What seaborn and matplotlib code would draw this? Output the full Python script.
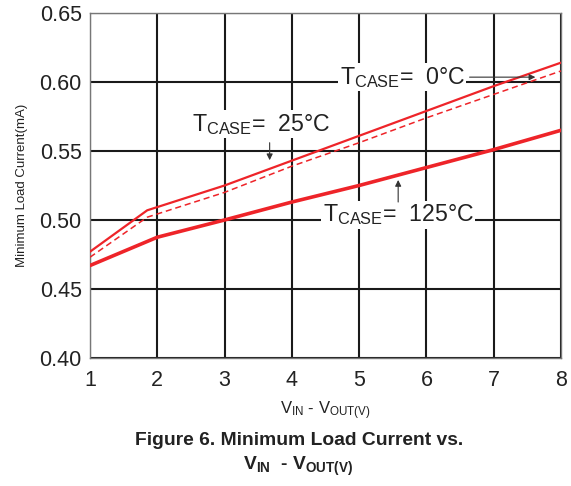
import pandas as pd
import seaborn as sns
import matplotlib.pyplot as plt

# curves
x_25 = [1, 1.85, 3, 4, 5, 6, 7, 8]
y_25 = [0.477, 0.507, 0.525, 0.543, 0.561, 0.579, 0.597, 0.614]
x_0 = [1, 1.85, 3, 4, 5, 6, 7, 8]
y_0 = [0.473, 0.502, 0.520, 0.539, 0.556, 0.574, 0.591, 0.608]
x_125 = [1, 2, 3, 4, 5, 6, 7, 8]
y_125 = [0.467, 0.4875, 0.500, 0.513, 0.525, 0.538, 0.551, 0.565]

x_ticks = [1, 2, 3, 4, 5, 6, 7, 8]
y_ticks = [0.40, 0.45, 0.50, 0.55, 0.60, 0.65]

sns.set_style("white")
plt.rcParams["font.family"] = ["Liberation Sans", "DejaVu Sans"]
plt.rcParams["mathtext.fontset"] = "custom"
plt.rcParams["mathtext.rm"] = "Liberation Sans"
plt.rcParams["mathtext.bf"] = "Liberation Sans:bold"

fig = plt.figure(figsize=(5.71, 4.86), dpi=100)
ax = fig.add_axes([0.1576, 0.2634, 0.8249, 0.7099])

red = "#ee2429"
sns.lineplot(x=x_25, y=y_25, ax=ax, color=red, linewidth=1.6, zorder=3)
sns.lineplot(x=x_0, y=y_0, ax=ax, color=red, linewidth=1.1, linestyle=(0, (4, 2.5)), zorder=3)
sns.lineplot(x=x_125, y=y_125, ax=ax, color=red, linewidth=2.6, zorder=3)

ax.set_xlim(1, 8)
ax.set_ylim(0.40, 0.65)
ax.set_xticks(x_ticks)
ax.set_yticks(y_ticks)
ax.set_xticklabels([str(v) for v in x_ticks])
ax.set_yticklabels([f"{v:.2f}" for v in y_ticks])
ax.tick_params(length=0, labelsize=15.5, colors="#222222")
ax.tick_params(axis="x", pad=9)
ax.tick_params(axis="y", pad=6)
ax.grid(True, color="#1a1a1a", linewidth=1.5)
ax.set_axisbelow(True)
for s in ax.spines.values():
    s.set_color("#777777")
    s.set_linewidth(1.0)

ax.set_xlabel(r"$\mathregular{V_{IN}}$ - $\mathregular{V_{OUT(V)}}$", fontsize=12, color="#222222", labelpad=6)
ax.set_ylabel("Minimum Load Current(mA)", fontsize=9.5, color="#222222", labelpad=8)

box = dict(facecolor="white", edgecolor="none", pad=1)
lab = r"$\mathregular{T_{CASE}}$= "
arrow = dict(arrowstyle="-|>", color="#333333", lw=0.8, mutation_scale=9)
ax.text(4.71, 0.6035, lab + " 0°C", fontsize=16.7, color="#222222", ha="left", va="center", bbox=box, zorder=4)
ax.annotate("", xy=(7.66, 0.6035), xytext=(6.6, 0.6035), arrowprops=arrow, zorder=5)
ax.text(2.52, 0.5695, lab + " 25°C", fontsize=16.7, color="#222222", ha="left", va="center", bbox=box, zorder=4)
ax.annotate("", xy=(3.67, 0.5413), xytext=(3.67, 0.558), arrowprops=arrow, zorder=5)
ax.text(4.46, 0.5036, lab + " 125°C", fontsize=16.7, color="#222222", ha="left", va="center", bbox=box, zorder=4)
ax.annotate("", xy=(5.58, 0.531), xytext=(5.58, 0.511), arrowprops=arrow, zorder=5)

fig.text(0.524, 0.0926, "Figure 6. Minimum Load Current vs.", fontsize=13.9, fontweight="bold",
         ha="center", va="center", color="#222222")
fig.text(0.522, 0.041, r"$\mathbf{V_{IN}}$  - $\mathbf{V_{OUT(V)}}$", fontsize=13.9, fontweight="bold",
         ha="center", va="center", color="#222222")

fig.savefig("out.png", dpi=100)
